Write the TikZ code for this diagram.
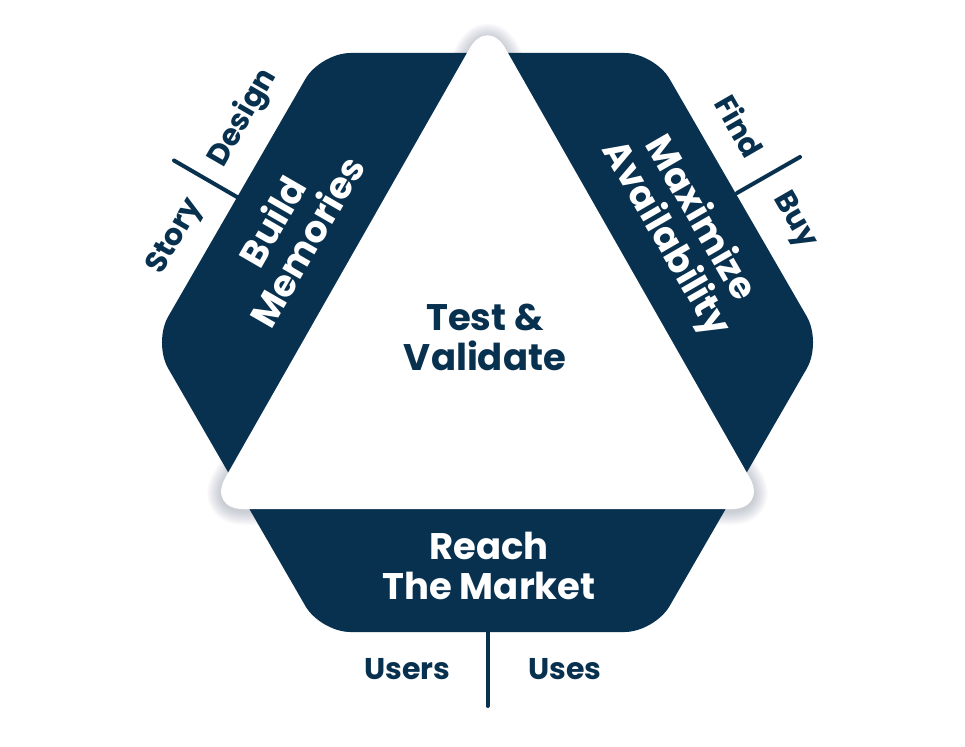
\documentclass[tikz,border=0pt]{standalone}
\usepackage{fontspec}
\setmainfont{Poppins}
\definecolor{navy}{HTML}{08314F}
\definecolor{shade}{HTML}{5A6A80}
\begin{document}
\begin{tikzpicture}[x=1pt,y=-1pt,
  mainlabel/.style={font=\fontsize{37}{40}\selectfont\bfseries, align=center, inner sep=0pt},
  sidelabel/.style={font=\fontsize{30}{32}\selectfont\bfseries, text=navy, inner sep=0pt},
  tickline/.style={draw=navy, line width=4pt, line cap=round},
  glow/.style={draw=shade, opacity=0.022, rounded corners=36, line join=round}]
\useasboundingbox (0,0) rectangle (965,746);
\fill[white] (0,0) rectangle (965,746);
% named corner points
\coordinate (hL) at (153.2,342.5);
\coordinate (hTL) at (320.4,53);
\coordinate (hTR) at (654.6,53);
\coordinate (hR) at (821.8,342.5);
\coordinate (hBR) at (654.6,632);
\coordinate (hBL) at (320.4,632);
\coordinate (tA) at (487.5,17);
\coordinate (tL) at (207.5,509);
\coordinate (tR) at (767.5,509);
% soft shadow of the triangle
\foreach \w in {2,4,...,28}{
  \draw[glow, line width=\w pt] ([yshift=-2pt]tA) -- ([yshift=-2pt]tL) -- ([yshift=-2pt]tR) -- cycle;
}
% hexagon
\fill[navy, rounded corners=30] (hL) -- (hTL) -- (hTR) -- (hR) -- (hBR) -- (hBL) -- cycle;
% triangle
\fill[white, rounded corners=36] (tA) -- (tL) -- (tR) -- cycle;
% ticks
\coordinate (lt0) at (237,197);
\coordinate (lt1) at (174,160.5);
\coordinate (rt0) at (737,193);
\coordinate (rt1) at (800,157);
\coordinate (bt0) at (487.5,632);
\coordinate (bt1) at (487.5,706);
\draw[tickline] (lt0) -- (lt1);
\draw[tickline] (rt0) -- (rt1);
\draw[tickline] (bt0) -- (bt1);
% labels
\node[mainlabel, text=navy] (test) at (485,337.5) {Test \&\\Validate};
\node[mainlabel, text=white] (reach) at (489,566) {Reach\\The Market};
\node[mainlabel, text=white, rotate=60] (build) at (289,231) {Build\\Memories};
\node[mainlabel, text=white, rotate=-60] (maxi) at (682,229) {Maximize\\Availability};
\node[sidelabel, rotate=60] (story) at (176,237) {Story};
\node[sidelabel, rotate=60] (design) at (243,118) {Design};
\node[sidelabel, rotate=-60] (find) at (740,126) {Find};
\node[sidelabel, rotate=-60] (buy) at (794,221) {Buy};
\node[sidelabel] (users) at (407.5,669.5) {Users};
\node[sidelabel] (uses) at (565,669.5) {Uses};
\end{tikzpicture}
\end{document}
